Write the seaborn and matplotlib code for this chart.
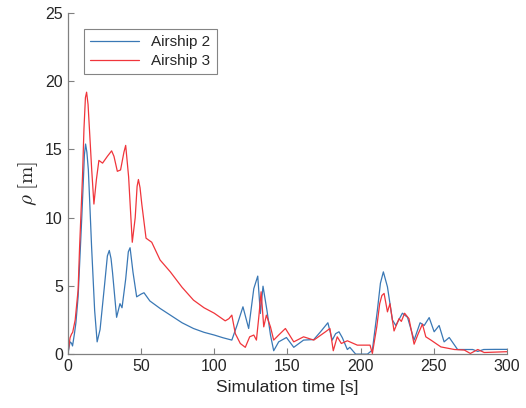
import numpy as np
import pandas as pd
import matplotlib
matplotlib.use('Agg')
import matplotlib.pyplot as plt
import seaborn as sns

# Airship 2 (blue)
t_a2 = [0, 1.5, 2.5, 3.2, 4.5, 5.5, 7, 8, 9.5, 10.5, 11.3, 12.1, 13, 14, 15, 16.2,
        18.3, 20, 22, 25, 27, 28.3, 29.5, 30.5, 33.3, 35.6, 37, 39.5, 41.3, 42.5,
        44.5, 47, 50, 52, 56, 63, 70, 78, 85.8, 93, 100, 106, 112, 115.5, 119.6,
        123.5, 127, 129.7, 131.5, 133.3, 136, 138.4, 140.6, 144, 149.3, 154.3, 161,
        168, 172.6, 177.6, 180.6, 182.9, 185.2, 187.5, 190.9, 192.6, 196.6, 204.6,
        208, 211.4, 213.5, 215.5, 218.3, 221.7, 224, 228.5, 232, 236.5, 240.6,
        243.4, 246.8, 250.2, 253.6, 257, 260.5, 266.2, 276.5, 280, 284, 292, 300]
y_a2 = [0, 0.9, 0.8, 0.6, 1.5, 2.3, 4.2, 6.5, 10, 12.5, 14.6, 15.4, 14.8, 13.5, 11, 7.9,
        3.2, 0.9, 1.8, 5, 7.2, 7.6, 7.0, 6, 2.7, 3.7, 3.4, 5.5, 7.5, 7.8,
        6, 4.2, 4.4, 4.5, 3.9, 3.35, 2.86, 2.3, 1.88, 1.6, 1.4, 1.2, 1.03, 2.1, 3.47,
        1.88, 4.8, 5.72, 2.98, 4.98, 3.2, 1.4, 0.25, 0.9, 1.22, 0.5, 1.03,
        1.07, 1.64, 2.3, 1.03, 1.5, 1.64, 1.2, 0.34, 0.5, 0.0, 0.0,
        0.3, 3.2, 5.2, 6.03, 4.93, 2.5, 2.1, 3.0, 2.7, 1.03, 2.3,
        2.1, 2.68, 1.64, 2.1, 0.9, 1.22, 0.34, 0.34, 0.2, 0.34, 0.35, 0.35]

# Airship 3 (red)
t_a3 = [0, 1.5, 2.5, 3.3, 5, 7, 8, 10, 11, 12, 12.8, 13.8, 15, 16.3, 17.8, 19.5,
        21.2, 23.7, 27, 29.9, 31.5, 33.8, 36, 38.3, 39.5, 41.5, 44, 46, 47.3, 48.2,
        49.3, 50.5, 53.4, 57.3, 63, 70, 78, 85.8, 93, 100, 107.5, 110, 112, 114.4,
        117.8, 121.2, 124.2, 127, 128.8, 130.5, 132, 133.8, 135.6, 138.4, 140.6, 144,
        148.6, 154.3, 161, 168, 176, 179, 181.3, 184, 186.8, 190.9, 197.7, 206.4, 208,
        211, 213, 214.5, 216, 218.3, 220, 222.8, 226.2, 227.8, 230, 233, 236.5, 239.2,
        242.2, 244.5, 248, 254.8, 264, 270.8, 274.9, 280, 284.4, 300]
y_a3 = [0, 1.2, 1.47, 1.6, 2.5, 4.7, 7.8, 13, 16.5, 18.8, 19.2, 18.3, 16, 13.5, 11.0, 12.8,
        14.2, 14.0, 14.5, 14.9, 14.5, 13.4, 13.5, 14.8, 15.3, 13, 8.2, 10, 12.3, 12.8,
        12.2, 11, 8.5, 8.2, 6.9, 6.03, 4.9, 3.96, 3.4, 3.0, 2.44, 2.6, 2.86, 1.5,
        0.78, 0.5, 1.27, 1.4, 1.03, 2.8, 4.57, 2.0, 2.86, 2.0, 1.03, 1.4,
        1.88, 0.9, 1.27, 1.03, 1.64, 1.88, 0.25, 1.27, 0.78, 0.98, 0.66, 0.66, 0.05,
        2.0, 3.7, 4.3, 4.45, 3.1, 3.7, 1.7, 2.6, 2.4, 3.0, 2.6, 0.73, 1.47,
        2.2, 1.27, 1.03, 0.53, 0.34, 0.3, 0.05, 0.34, 0.12, 0.18]

df = pd.concat([
    pd.DataFrame({'t': t_a2, 'rho': y_a2, 'series': 'Airship 2'}),
    pd.DataFrame({'t': t_a3, 'rho': y_a3, 'series': 'Airship 3'}),
])

sns.set_style('ticks')
plt.rcParams['font.family'] = ['Liberation Sans', 'DejaVu Sans']
plt.rcParams['mathtext.fontset'] = 'cm'

fig = plt.figure(figsize=(5.26, 4.08), dpi=100)
ax = fig.add_axes([0.129, 0.132, 0.835, 0.836])

sns.lineplot(data=df, x='t', y='rho', hue='series', sort=False,
             palette={'Airship 2': '#3a78b5', 'Airship 3': '#f0353b'},
             linewidth=0.9, ax=ax)

ax.set_xlim(0, 300)
ax.set_ylim(0, 25)
ax.set_xticks([0, 50, 100, 150, 200, 250, 300])
ax.set_yticks([0, 5, 10, 15, 20, 25])
ax.tick_params(direction='in', length=4, width=0.8, color='#808080',
               labelcolor='#262626', labelsize=11.5)
for s in ['top', 'right']:
    ax.spines[s].set_visible(False)
for s in ['left', 'bottom']:
    ax.spines[s].set_color('#808080')
    ax.spines[s].set_linewidth(0.9)
ax.set_xlabel('Simulation time [s]', fontsize=12.5, color='#262626')
ax.set_ylabel(r'$\rho\ \mathrm{[m]}$', fontsize=15, color='#262626', labelpad=4)

leg = ax.legend(loc='upper left', bbox_to_anchor=(0.02, 0.975), fontsize=11,
                frameon=True, fancybox=False, edgecolor='#666666',
                handlelength=3.2, borderpad=0.4, labelspacing=0.3)
leg.get_frame().set_linewidth(0.8)
leg.set_title(None)

fig.savefig('out.png', dpi=100)
